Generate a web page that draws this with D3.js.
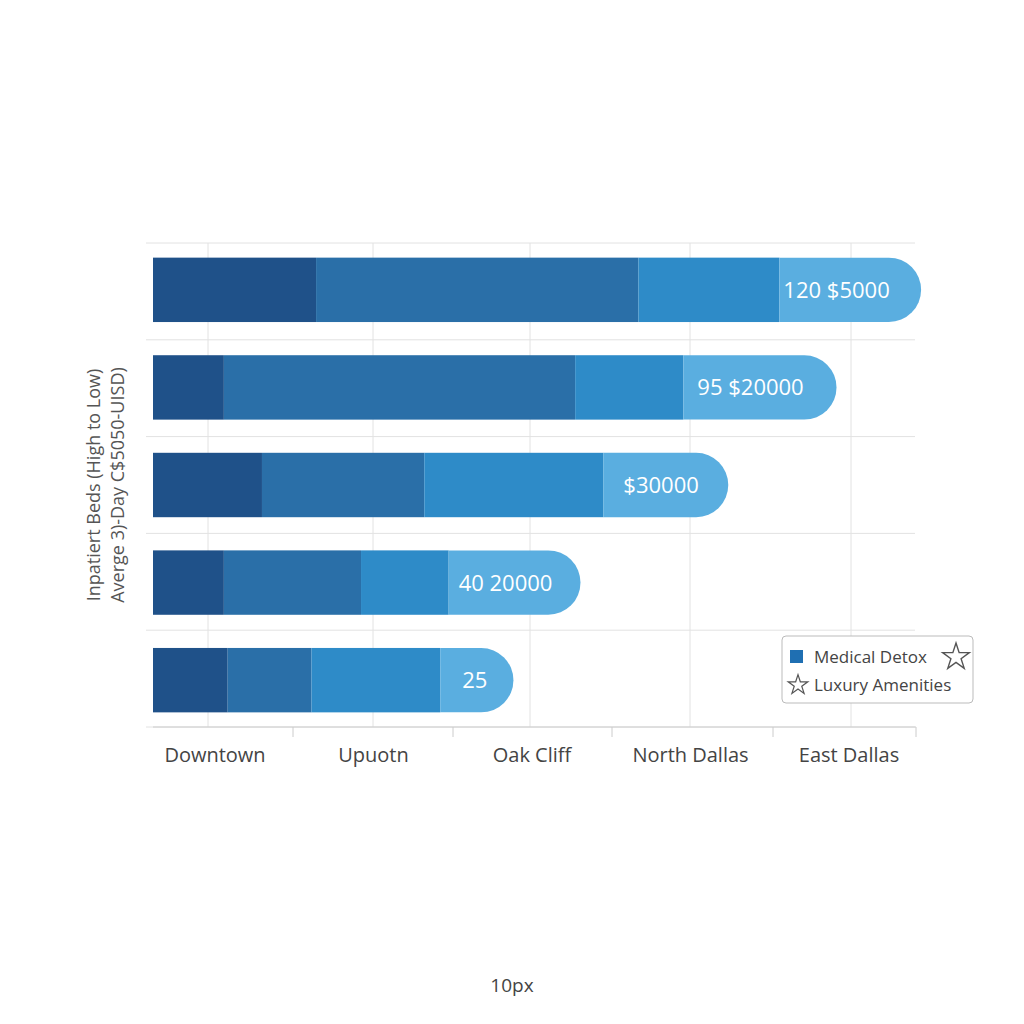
<!DOCTYPE html>
<html><head><meta charset="utf-8">
<script src="https://cdn.jsdelivr.net/npm/d3@7"></script>
<style>body{margin:0;background:#fff;font-family:"Open Sans",sans-serif}</style>
</head><body><svg id="c" width="1024" height="1024"></svg>
<script>
// data
const rows = ['r1', 'r2', 'r3', 'r4', 'r5'];
const categories = ['Downtown', 'Upuotn', 'Oak Cliff', 'North Dallas', 'East Dallas'];
const seg1 = [21.4, 9.3, 14.3, 9.3, 9.8];
const seg2 = [42.3, 46.1, 21.3, 18.0, 11.0];
const seg3 = [18.5, 14.2, 23.5, 11.5, 16.9];
const seg4 = [18.6, 20.1, 16.4, 17.3, 9.6];
const barLabels = ['120 $5000', '95 $20000', '$30000', '40 20000', '25'];
const labelPad = [4, 14, 20, 10, 22];
const colors = ['#1f5189', '#2a6fa8', '#2e8bc8', '#5aaee0'];

const svg = d3.select('#c');
const x = d3.scaleLinear().domain([0, 100]).range([153, 915]);
const y = d3.scaleBand().domain(rows).range([243, 727]).paddingInner(0.34).paddingOuter(0.15);

// grid
const g = svg.append('g');
[208, 373, 530, 690, 851].forEach(px => g.append('line')
    .attr('x1', px).attr('x2', px).attr('y1', 243).attr('y2', 727)
    .attr('stroke', '#e2e2e2'));
d3.range(6).forEach(i => g.append('line')
    .attr('x1', 146).attr('x2', 915).attr('y1', 243 + i * 96.8).attr('y2', 243 + i * 96.8)
    .attr('stroke', '#e2e2e2'));

// bottom axis
const xa = d3.scalePoint().domain(categories).range([215, 849]);
svg.append('line').attr('x1', 153).attr('x2', 916).attr('y1', 727).attr('y2', 727).attr('stroke', '#ccc');
[293, 453, 612, 773, 916].forEach(px => svg.append('line')
    .attr('x1', px).attr('x2', px).attr('y1', 727).attr('y2', 737).attr('stroke', '#ccc'));
svg.selectAll('.cat').data(categories).enter().append('text')
    .attr('x', d => xa(d)).attr('y', 762).attr('text-anchor', 'middle')
    .attr('font-size', 20).attr('fill', '#444').text(d => d);

// bars
const series = [seg1, seg2, seg3, seg4];
rows.forEach((r, i) => {
    let acc = 0;
    series.forEach((s, k) => {
        const x0 = x(acc), x1 = x(acc + s[i]);
        const h = y.bandwidth(), top = y(r);
        if (k === 3) {
            const rad = h / 2;
            svg.append('path').attr('fill', colors[k])
                .attr('d', `M${x0},${top}H${x1 - rad}A${rad},${rad} 0 0 1 ${x1 - rad},${top + h}H${x0}Z`);
            svg.append('text').attr('x', x0 + labelPad[i]).attr('y', top + h / 2 + 8)
                .attr('fill', '#fff').attr('font-size', 22).text(barLabels[i]);
        } else {
            svg.append('rect').attr('x', x0).attr('y', top).attr('width', x1 - x0).attr('height', h)
                .attr('fill', colors[k]);
        }
        acc += s[i];
    });
});

// y title
const yt = svg.append('text').attr('transform', 'translate(100,485) rotate(-90)')
    .attr('text-anchor', 'middle').attr('font-size', 18).attr('fill', '#555');
yt.append('tspan').attr('x', 0).attr('dy', 0).text('Inpatiert Beds (High to  Low)');
yt.append('tspan').attr('x', 0).attr('dy', 24).text('Averge 3)-Day C$5050-UISD)');

// legend
const lg = svg.append('g');
lg.append('rect').attr('x', 782).attr('y', 636).attr('width', 191).attr('height', 67).attr('rx', 4)
    .attr('fill', '#fff').attr('stroke', '#bbb');
lg.append('rect').attr('x', 790).attr('y', 650).attr('width', 13).attr('height', 13).attr('fill', '#1f6fb2');
lg.append('text').attr('x', 814).attr('y', 663).attr('font-size', 17).attr('fill', '#444').text('Medical Detox');
lg.append('text').attr('x', 814).attr('y', 691).attr('font-size', 17).attr('fill', '#444').text('Luxury Amenities');
const star = d3.symbol().type(d3.symbolStar);
lg.append('path').attr('d', star.size(220)()).attr('transform', 'translate(956,657)')
    .attr('fill', 'none').attr('stroke', '#555').attr('stroke-width', 1.4);
lg.append('path').attr('d', star.size(120)()).attr('transform', 'translate(798,685)')
    .attr('fill', 'none').attr('stroke', '#555').attr('stroke-width', 1.2);

svg.append('text').attr('x', 512).attr('y', 992).attr('text-anchor', 'middle')
    .attr('font-size', 19).attr('fill', '#444').text('10px');
</script></body></html>
